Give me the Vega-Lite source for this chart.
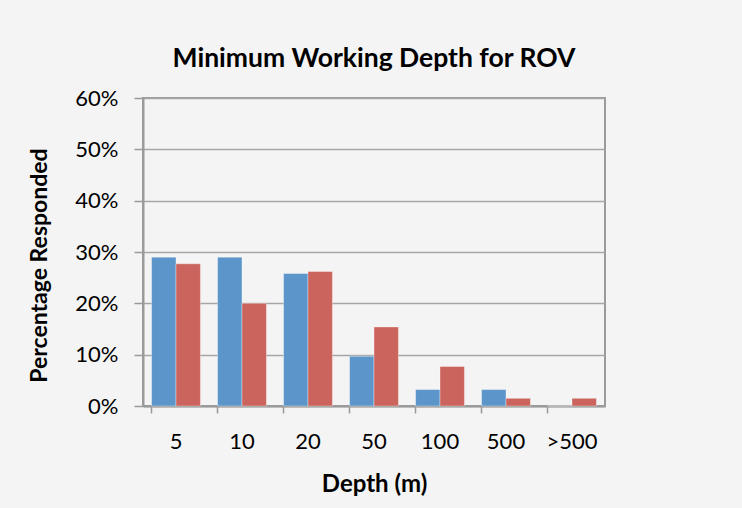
{
  "$schema": "https://vega.github.io/schema/vega-lite/v6.json",
  "width": 462,
  "height": 308,
  "autosize": {"type": "none"},
  "padding": {"left": 143, "top": 98, "right": 137, "bottom": 102},
  "background": "#f4f4f4",
  "title": {
    "text": "Minimum Working Depth for ROV",
    "font": "Lato",
    "fontSize": 26.5,
    "fontWeight": "bold",
    "color": "#000000",
    "anchor": "middle",
    "offset": 15
  },
  "data": {
    "values": [
      {"depth": "5", "series": "A", "pct": 0.290},
      {"depth": "5", "series": "B", "pct": 0.277},
      {"depth": "10", "series": "A", "pct": 0.290},
      {"depth": "10", "series": "B", "pct": 0.200},
      {"depth": "20", "series": "A", "pct": 0.258},
      {"depth": "20", "series": "B", "pct": 0.262},
      {"depth": "50", "series": "A", "pct": 0.097},
      {"depth": "50", "series": "B", "pct": 0.154},
      {"depth": "100", "series": "A", "pct": 0.032},
      {"depth": "100", "series": "B", "pct": 0.077},
      {"depth": "500", "series": "A", "pct": 0.032},
      {"depth": "500", "series": "B", "pct": 0.015},
      {"depth": ">500", "series": "A", "pct": 0.0},
      {"depth": ">500", "series": "B", "pct": 0.015}
    ]
  },
  "mark": {"type": "bar", "stroke": "#ffffff", "strokeOpacity": 0.35, "strokeWidth": 1},
  "encoding": {
    "x": {
      "field": "depth",
      "type": "nominal",
      "sort": ["5", "10", "20", "50", "100", "500", ">500"],
      "scale": {"paddingInner": 0.26, "paddingOuter": 0.13},
      "axis": {
        "title": "Depth (m)",
        "titleFont": "Lato",
        "titleFontSize": 24,
        "titleFontWeight": "bold",
        "titleColor": "#000000",
        "titlePadding": 20,
        "labelFont": "Lato",
        "labelFontSize": 22,
        "labelColor": "#000000",
        "labelAngle": 0,
        "labelPadding": 18,
        "bandPosition": 0,
        "tickColor": "#9a9a9a",
        "tickWidth": 1.5,
        "tickSize": 7,
        "domainColor": "#9a9a9a",
        "domainWidth": 2,
        "grid": false
      }
    },
    "xOffset": {"field": "series", "type": "nominal", "sort": ["A", "B"]},
    "y": {
      "field": "pct",
      "type": "quantitative",
      "scale": {"domain": [0, 0.6], "nice": false},
      "axis": {
        "title": "Percentage Responded",
        "titleFont": "Lato",
        "titleFontSize": 23,
        "titleFontWeight": "bold",
        "titleColor": "#000000",
        "titlePadding": 23,
        "titleY": 167,
        "labelFont": "Lato",
        "labelFontSize": 22,
        "labelColor": "#000000",
        "labelPadding": 16,
        "format": ".0%",
        "values": [0, 0.1, 0.2, 0.3, 0.4, 0.5, 0.6],
        "tickColor": "#9a9a9a",
        "tickWidth": 1.5,
        "tickSize": 9,
        "domainColor": "#9a9a9a",
        "domainWidth": 2,
        "gridColor": "#a6a6a6",
        "gridWidth": 1.5
      }
    },
    "color": {
      "field": "series",
      "type": "nominal",
      "scale": {"domain": ["A", "B"], "range": ["#5b95ca", "#cb645d"]},
      "legend": null
    }
  },
  "config": {
    "view": {"stroke": "#9a9a9a", "strokeWidth": 2}
  }
}
